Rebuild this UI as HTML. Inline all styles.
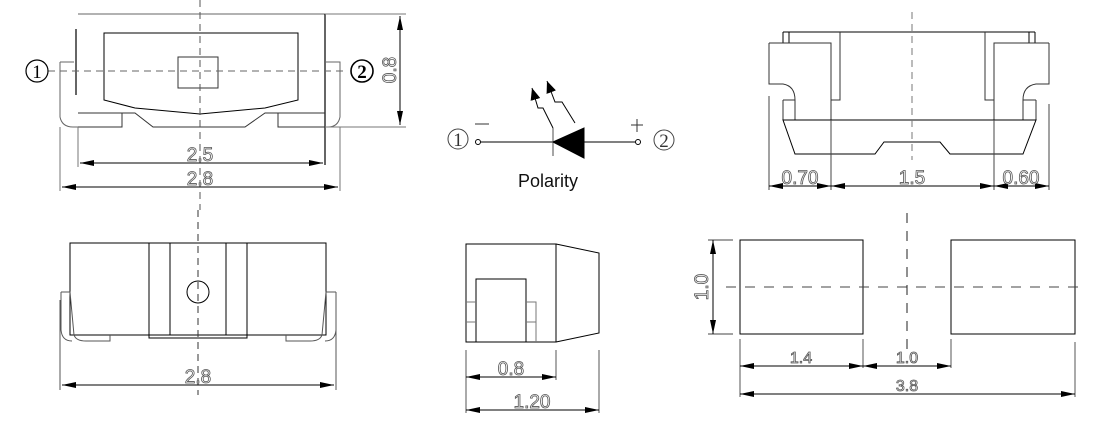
<!DOCTYPE html>
<html><head><style>
html,body{margin:0;padding:0;background:#fff;}
svg{display:block;}
text{font-family:"Liberation Sans",sans-serif;}
.d{font-size:19px;fill:#fff;stroke:#555;stroke-width:0.8;}
.c{font-family:"Liberation Serif",serif;font-size:19px;fill:#000;}
</style></head><body>
<svg width="1100" height="422" viewBox="0 0 1100 422" xmlns="http://www.w3.org/2000/svg">
<defs>
<marker id="a" viewBox="0 0 14 6" refX="14" refY="3" markerWidth="14" markerHeight="6" markerUnits="userSpaceOnUse" orient="auto-start-reverse"><path d="M0,0 L14,3 L0,6 z" fill="#000"/></marker>
<marker id="b" viewBox="0 0 12 10" refX="12" refY="5" markerWidth="12" markerHeight="10" markerUnits="userSpaceOnUse" orient="auto"><path d="M0,0 L12,5 L0,10 z" fill="#000"/></marker>
</defs>
<g fill="none" stroke="#000" stroke-width="1">
<!-- TOP LEFT VIEW -->
<line x1="78" y1="14" x2="325" y2="14" stroke="#666"/>
<line x1="76" y1="29" x2="76" y2="95" stroke-width="1.2"/>
<line x1="325" y1="14" x2="325" y2="165" stroke-width="1.2"/>
<path d="M104,33 H298 V100 L265,108 L200,114 L135,108 L104,100 Z"/>
<rect x="178" y="57" width="40" height="31" stroke="#333"/>
<path d="M60,62 H74 M60,62 V117 Q62,127 73,127 H78" stroke="#666"/>
<path d="M325,62 H340 V117 Q338,127 328,127 H325" stroke="#666"/>
<path d="M78,113 H122 V127 H78 M122,113 H135 L153,127 H245 L265,113 H278 V127 H325 M278,113 H325" stroke="#333"/>
<line x1="48" y1="71" x2="345" y2="71" stroke="#666" stroke-dasharray="7,5"/>
<line x1="200" y1="0" x2="200" y2="210" stroke="#555" stroke-dasharray="7,5"/>
<line x1="78" y1="127" x2="78" y2="167" stroke="#777"/>
<line x1="60" y1="127" x2="60" y2="191" stroke="#777"/>
<line x1="340" y1="127" x2="340" y2="191" stroke="#777"/>
<line x1="80" y1="163" x2="323" y2="163" marker-start="url(#a)" marker-end="url(#a)"/>
<line x1="62" y1="187" x2="338" y2="187" marker-start="url(#a)" marker-end="url(#a)"/>
<line x1="325" y1="14" x2="406" y2="14" stroke="#777"/>
<line x1="325" y1="127" x2="406" y2="127" stroke="#777"/>
<line x1="400" y1="16" x2="400" y2="125" marker-start="url(#a)" marker-end="url(#a)"/>
<circle cx="37" cy="71" r="11" stroke-width="1.2"/>
<circle cx="362" cy="71" r="11" stroke-width="1.6"/>
<circle cx="458" cy="139" r="10" stroke="#444"/>
<circle cx="664" cy="140" r="10" stroke="#444"/>

<!-- TOP RIGHT VIEW -->
<path d="M783,32 H1035 M783,32 V43 M789,32 V43 M1029,32 V43 M1035,32 V43"/>
<path d="M840,32 V100 H831 M985,32 V100 H994" stroke="#333"/>
<path d="M769,43 H831 V120 M769,43 V84 H783 Q795,86 795,100 V120 M783,100 V120 M783,100 H795" stroke="#333"/>
<path d="M1049,43 H994 V120 M1049,43 V84 H1036 Q1023,86 1023,100 V120 M1036,100 V120 M1023,100 H1036" stroke="#333"/>
<path d="M783,120 H1036 L1023,154 H950 L940,142 H884 L875,154 H795 Z"/>
<line x1="912" y1="12" x2="912" y2="160" stroke="#777" stroke-dasharray="7,5"/>
<path d="M769,96 V190 M831,120 V190 M994,120 V190 M1049,104 V190" stroke="#444"/>
<line x1="769" y1="186" x2="831" y2="186" marker-start="url(#a)" marker-end="url(#a)"/>
<line x1="831" y1="186" x2="994" y2="186" marker-start="url(#a)" marker-end="url(#a)"/>
<line x1="994" y1="186" x2="1049" y2="186" marker-start="url(#a)" marker-end="url(#a)"/>

<!-- POLARITY -->
<circle cx="478" cy="142" r="2.5"/>
<circle cx="638" cy="142" r="2.5"/>
<line x1="481" y1="142" x2="553" y2="142"/>
<line x1="584" y1="142" x2="635" y2="142"/>
<line x1="553" y1="128" x2="553" y2="156" stroke="#888" stroke-width="1.5"/>
<path d="M553,142 L584,128 V158 Z" fill="#000"/>
<path d="M475,124 H489 M631,125 H643 M637,119 V132" stroke="#333"/>
<path d="M553,128 L543,108 L538,108 L532,88" marker-end="url(#b)"/>
<path d="M575,123 L562,102 L555,102 L547,81" marker-end="url(#b)"/>

<!-- BOTTOM LEFT VIEW -->
<rect x="70" y="243" width="256" height="92"/>
<path d="M149,243 V338 H247 V243 M170,243 V335 M226,243 V335"/>
<circle cx="198" cy="292" r="11"/>
<line x1="198" y1="210" x2="198" y2="395" stroke="#333" stroke-dasharray="7,5"/>
<path d="M61,292 H70 L74,335 Q76,341 86,341 H110 V335 M61,292 V330 Q62,341 72,341" stroke="#555"/>
<path d="M336,292 H326 L322,335 Q320,341 310,341 H286 V335 M336,292 V330 Q335,341 325,341" stroke="#555"/>
<path d="M60,300 V390 M336,300 V390" stroke="#555"/>
<line x1="62" y1="385" x2="334" y2="385" marker-start="url(#a)" marker-end="url(#a)"/>

<!-- BOTTOM MIDDLE VIEW -->
<rect x="466" y="244" width="90" height="98"/>
<path d="M556,244 L599,253 V333 L556,342"/>
<rect x="476" y="279" width="50" height="63"/>
<path d="M466,302 H476 M466,322 H476 M526,302 H536 V342 M526,322 H536" stroke="#777"/>
<path d="M466,350 V413 M556,350 V380 M599,350 V413" stroke="#555"/>
<line x1="466" y1="377" x2="556" y2="377" marker-start="url(#a)" marker-end="url(#a)"/>
<line x1="466" y1="410" x2="599" y2="410" marker-start="url(#a)" marker-end="url(#a)"/>

<!-- BOTTOM RIGHT VIEW -->
<rect x="740" y="240" width="123" height="94"/>
<rect x="951" y="240" width="124" height="94"/>
<line x1="726" y1="287" x2="1078" y2="287" stroke="#444" stroke-dasharray="10,9"/>
<line x1="907" y1="213" x2="907" y2="350" stroke="#222" stroke-dasharray="10,8"/>
<path d="M708,240 H733 M708,334 H733" stroke="#444"/>
<line x1="713" y1="240" x2="713" y2="334" marker-start="url(#a)" marker-end="url(#a)"/>
<path d="M740,339 V397 M863,339 V368 M951,339 V368 M1075,342 V397" stroke="#555"/>
<line x1="740" y1="366" x2="863" y2="366" marker-start="url(#a)" marker-end="url(#a)"/>
<line x1="863" y1="366" x2="951" y2="366" marker-start="url(#a)" marker-end="url(#a)"/>
<line x1="740" y1="394" x2="1075" y2="394" marker-start="url(#a)" marker-end="url(#a)"/>
</g>

<g>
<text class="d" x="200" y="161" text-anchor="middle">2.5</text>
<text class="d" x="200" y="185" text-anchor="middle">2.8</text>
<text class="d" transform="translate(396,70) rotate(-90)" text-anchor="middle">0.8</text>
<text class="d" x="800" y="184" text-anchor="middle">0.70</text>
<text class="d" x="912" y="184" text-anchor="middle">1.5</text>
<text class="d" x="1021" y="184" text-anchor="middle">0.60</text>
<text class="d" x="198" y="383" text-anchor="middle">2.8</text>
<text class="d" x="511" y="375" text-anchor="middle">0.8</text>
<text class="d" x="532" y="408" text-anchor="middle">1.20</text>
<text class="d" transform="translate(708,287) rotate(-90)" text-anchor="middle">1.0</text>
<text class="d" x="801" y="363" text-anchor="middle" style="font-size:16px">1.4</text>
<text class="d" x="907" y="363" text-anchor="middle" style="font-size:16px">1.0</text>
<text class="d" x="907" y="391" text-anchor="middle" style="font-size:16px">3.8</text>
</g>
<g text-anchor="middle">
<text class="c" x="37" y="78">1</text>
<text class="c" x="362" y="78" style="font-weight:bold">2</text>
<text class="c" x="458" y="146" style="fill:#333">1</text>
<text class="c" x="664" y="147" style="fill:#333">2</text>
</g>
<text x="548" y="187" text-anchor="middle" font-size="18" fill="#111">Polarity</text>
</svg>
</body></html>
